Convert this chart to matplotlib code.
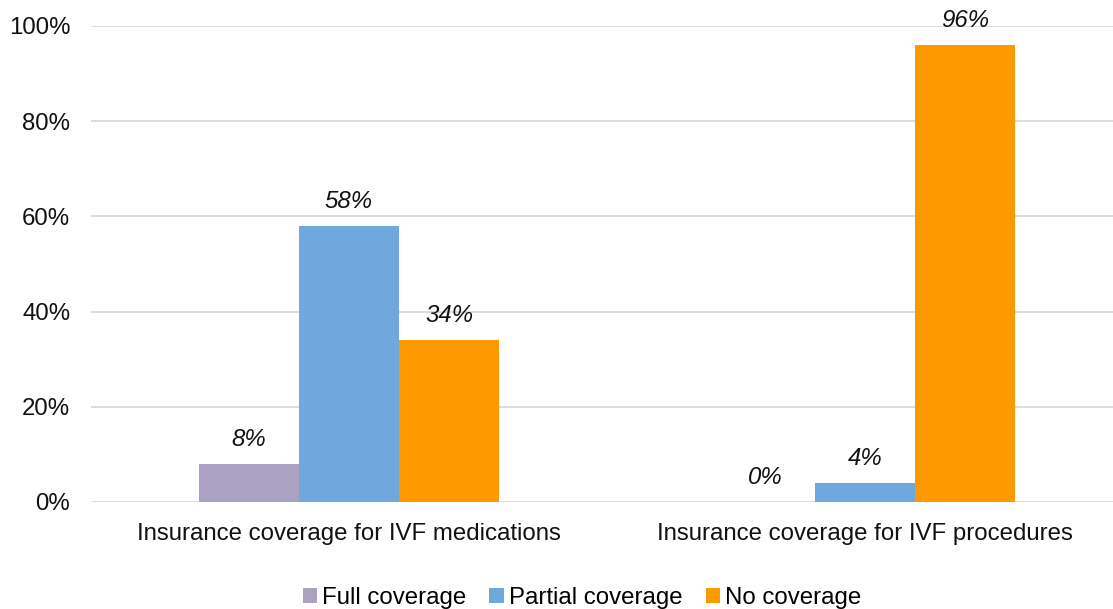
import numpy as np
import matplotlib.pyplot as plt
from matplotlib.ticker import PercentFormatter

plt.rcParams['font.family'] = ['Liberation Sans', 'DejaVu Sans']

categorias = ["Insurance coverage for IVF medications", "Insurance coverage for IVF procedures"]
series = ["Full coverage", "Partial coverage", "No coverage"]
full = [8, 0]
partial = [58, 4]
no_cov = [34, 96]
colores = ["#aba1c3", "#6fa8dc", "#ff9900"]

fs = 17.3

fig = plt.figure(figsize=(11.13, 6.09), dpi=100)
ax = fig.add_axes([91 / 1113, 107 / 609, 1 - 91 / 1113, 476 / 609])

x = np.arange(len(categorias))
ancho = 100 / 516
valores = [full, partial, no_cov]
for i, (nombre, vals) in enumerate(zip(series, valores)):
    pos = x + (i - 1) * ancho
    ax.bar(pos, vals, width=ancho, color=colores[i], label=nombre, zorder=3)
    for p, v in zip(pos, vals):
        ax.text(p, v + 5.1, f"{v}%", ha='center', va='center',
                fontsize=fs, style='italic', color='#111111')

ax.set_xlim(-0.5, -0.5 + (1113 - 91) / 516)
ax.set_ylim(0, 100)
ax.set_yticks([0, 20, 40, 60, 80, 100])
ax.yaxis.set_major_formatter(PercentFormatter(decimals=0))
ax.set_xticks(x)
ax.set_xticklabels(categorias)
ax.tick_params(axis='both', length=0, labelsize=fs, colors='#111111')
ax.tick_params(axis='x', pad=15)
ax.tick_params(axis='y', pad=15)
ax.grid(axis='y', color='#d9d9d9', linewidth=1.3, zorder=0)
for s in ax.spines.values():
    s.set_visible(False)

fig.legend(loc='center', bbox_to_anchor=(0.523, 1 - 598 / 609), ncol=3, frameon=False,
           fontsize=fs, handlelength=0.6, handleheight=0.6, handletextpad=0.22,
           columnspacing=0.95)

fig.savefig("out.png", dpi=100)
